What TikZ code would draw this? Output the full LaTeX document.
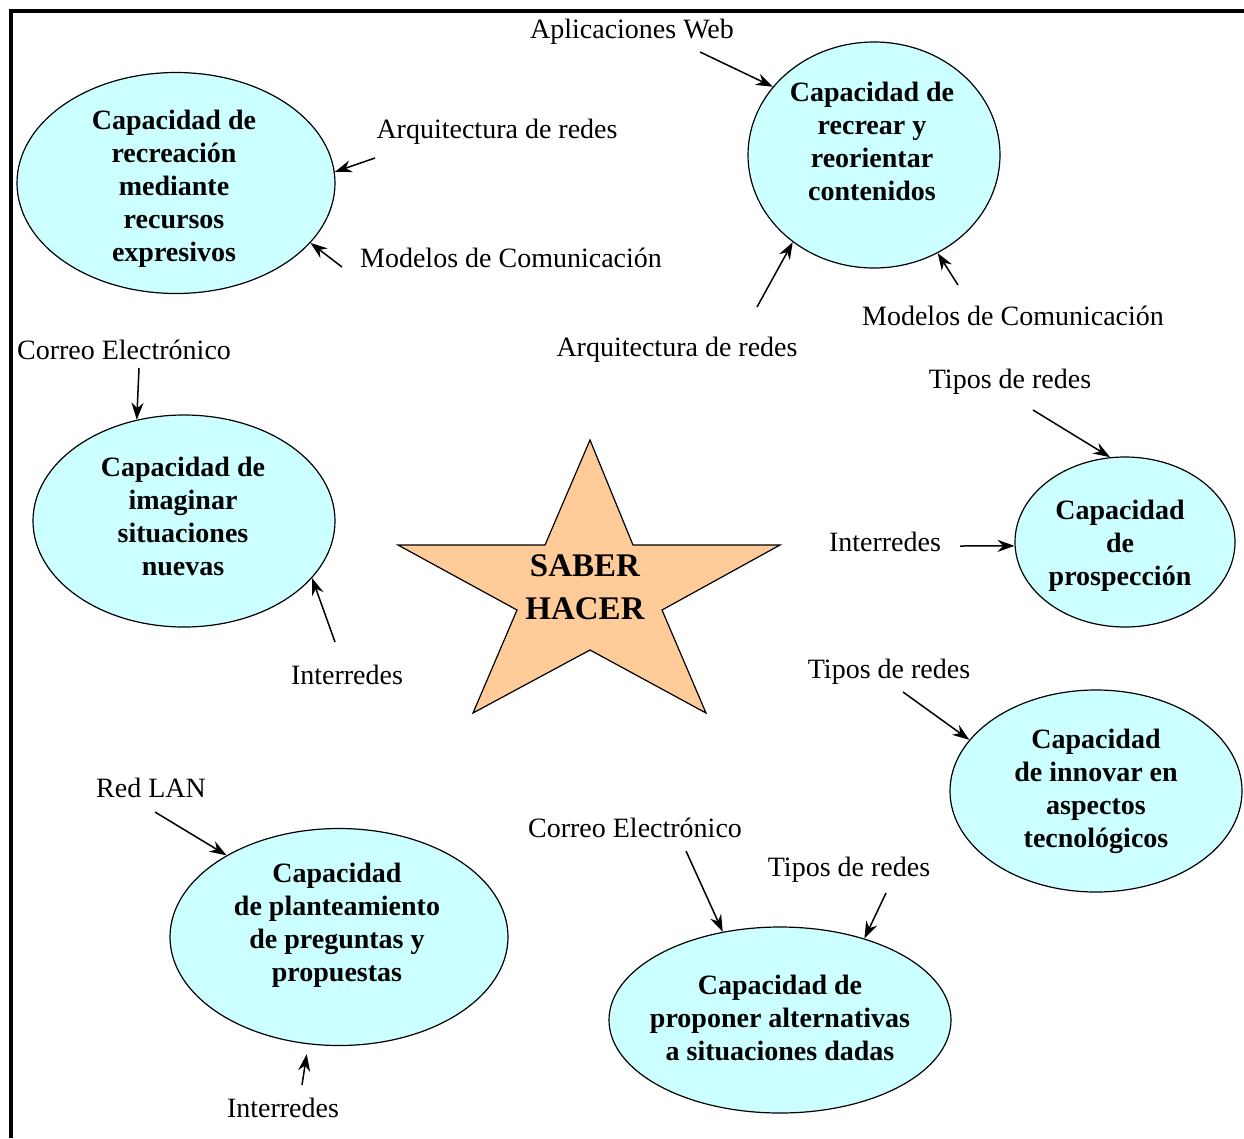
\documentclass[tikz,border=0pt]{standalone}
\usepackage{fontspec}
\setmainfont{Liberation Serif}
\usetikzlibrary{shapes.geometric,arrows.meta}
\definecolor{cyanfill}{RGB}{204,255,255}
\definecolor{peach}{RGB}{255,204,153}
\tikzset{
  capa/.style={ellipse, draw=black, line width=1.2pt, fill=cyanfill, inner sep=0pt},
  capatext/.style={align=center, font=\fontsize{28}{33}\selectfont\bfseries, inner sep=0pt},
  lbl/.style={font=\fontsize{28}{33}\selectfont, inner sep=0pt},
  arr/.style={line width=1.5pt, -{Stealth[length=17pt,width=12pt]}},
  frameline/.style={line width=4pt},
  starshape/.style={draw=black, line width=1.2pt, fill=peach, line join=miter}
}
\begin{document}
\begin{tikzpicture}[x=1pt,y=-1pt]
\useasboundingbox (0,0) rectangle (1244,1138);
% frame
\draw[frameline] (9,11) -- (1244,11);
\draw[frameline] (11,9) -- (11,1138);

% ellipses
\node[capa, minimum width=318pt, minimum height=221pt] (e1) at (176,183) {};
\node[capatext] (e1t) at (174,189) {Capacidad de\\recreación\\mediante\\recursos\\expresivos};
\node[capa, minimum width=252pt, minimum height=226pt] (e2) at (874,155) {};
\node[capatext] (e2t) at (872,141) {Capacidad de\\recrear y\\reorientar\\contenidos};
\node[capa, minimum width=302pt, minimum height=212pt] (e3) at (184,521) {};
\node[capatext] (e3t) at (183,516) {Capacidad de\\imaginar\\situaciones\\nuevas};
\node[capa, minimum width=220pt, minimum height=170pt] (e4) at (1125,542) {};
\node[capatext] (e4t) at (1120,546) {Capacidad\\de\\prospección};
\node[capa, minimum width=292pt, minimum height=202pt] (e5) at (1096,791) {};
\node[capatext] (e5t) at (1096,791) {Capacidad\\de innovar en\\aspectos\\tecnológicos};
\node[capa, minimum width=338pt, minimum height=217pt] (e6) at (339,937) {};
\node[capatext] (e6t) at (337,925) {Capacidad\\de planteamiento\\de preguntas y\\propuestas};
\node[capa, minimum width=342pt, minimum height=186pt] (e7) at (780,1020) {};
\node[capatext] (e7t) at (780,1018) {Capacidad de\\proponer alternativas\\a situaciones dadas};

% star
\draw[starshape] (590,440) -- (633,545) -- (780,545) -- (662,610) -- (706,713) -- (590,650) -- (473,713) -- (517,610) -- (398,545) -- (545,545) -- cycle;
\node[align=center, font=\fontsize{33}{43}\selectfont\bfseries, inner sep=0pt] (star) at (585,587) {SABER\\HACER};

% labels
\node[lbl] (l1a) at (497,132) {Arquitectura de redes};
\node[lbl] (l1b) at (511,258) {Modelos de Comunicación};
\node[lbl] (l2a) at (632,32) {Aplicaciones Web};
\node[lbl] (l2b) at (677,350) {Arquitectura de redes};
\node[lbl] (l2c) at (1013,316) {Modelos de Comunicación};
\node[lbl] (l3a) at (124,350) {Correo Electrónico};
\node[lbl] (l3b) at (347,675) {Interredes};
\node[lbl] (l4a) at (1010,382) {Tipos de redes};
\node[lbl] (l4b) at (885,542) {Interredes};
\node[lbl] (l5a) at (889,672) {Tipos de redes};
\node[lbl] (l6a) at (151,788) {Red LAN};
\node[lbl] (l6b) at (283,1108) {Interredes};
\node[lbl] (l7a) at (635,828) {Correo Electrónico};
\node[lbl] (l7b) at (849,870) {Tipos de redes};

% arrow tails
\coordinate (t1a) at (375,158);
\coordinate (t1b) at (342,267);
\coordinate (t2a) at (700,52);
\coordinate (t2b) at (757,307);
\coordinate (t2c) at (958,285);
\coordinate (t3a) at (139,368);
\coordinate (t3b) at (335,642);
\coordinate (t4a) at (1033,410);
\coordinate (t4b) at (960,546);
\coordinate (t5a) at (903,692);
\coordinate (t6a) at (155,812);
\coordinate (t6b) at (302,1085);
\coordinate (t7a) at (686,851);
\coordinate (t7b) at (886,893);

% arrows
\draw[arr] (t1a) -- (e1.4);
\draw[arr] (t1b) -- (e1.-24);
\draw[arr] (t2a) -- (e2.146);
\draw[arr] (t2b) -- (e2.227);
\draw[arr] (t2c) -- (e2.-57);
\draw[arr] (t3a) -- (e3.115);
\draw[arr] (t3b) -- (e3.-24);
\draw[arr] (t4a) -- (e4.100);
\draw[arr] (t4b) -- (e4.182);
\draw[arr] (t5a) -- (e5.158);
\draw[arr] (t6a) -- (e6.144);
\draw[arr, shorten >=10pt] (t6b) -- (e6.-106);
\draw[arr] (t7a) -- (e7.123);
\draw[arr] (t7b) -- (e7.44);
\end{tikzpicture}
\end{document}
